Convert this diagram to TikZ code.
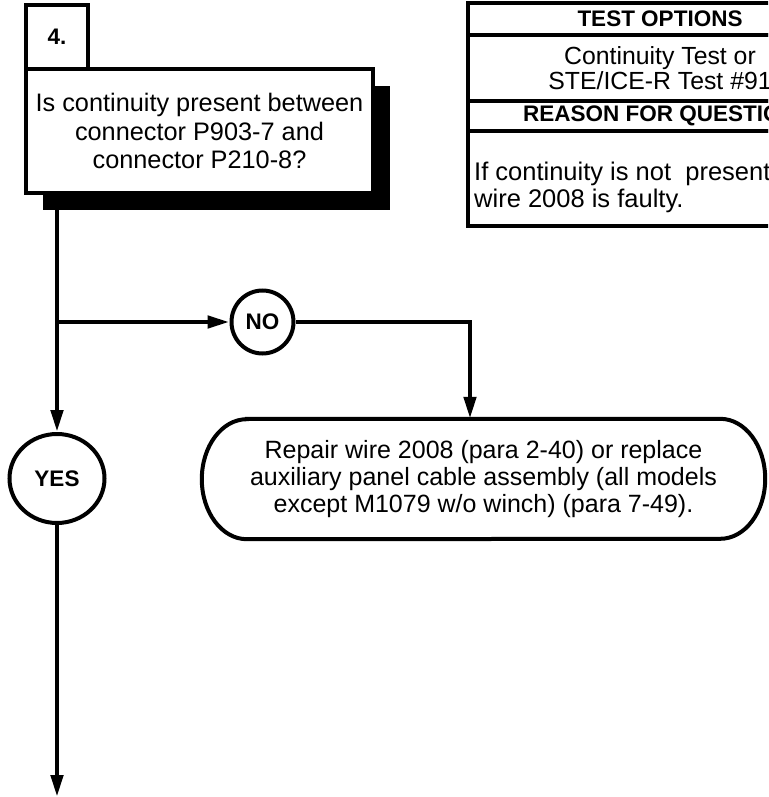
\documentclass[tikz,border=0pt]{standalone}
\usepackage{fontspec}
\setmainfont{Liberation Sans}
\usetikzlibrary{arrows.meta, shapes.geometric, shadows}

\begin{document}
\begin{tikzpicture}[x=1pt, y=-1pt,
    box/.style={rectangle, draw, line width=4pt, fill=white, inner sep=0pt},
    cell/.style={box, minimum width=384pt, align=center, font=\fontsize{22.5}{25}\selectfont},
    answer/.style={ellipse, draw, line width=4pt, fill=white, inner sep=0pt, font=\bfseries\fontsize{22.5}{27}\selectfont},
    flow/.style={line width=4.5pt, -{Triangle[length=22pt, width=12pt]}}
]
  \useasboundingbox (0,0) rectangle (768,797);
  \clip (0,0) rectangle (768,797);

  \node[box, minimum width=62pt, minimum height=64pt, font=\bfseries\fontsize{22.5}{27}\selectfont] (n4) at (57,37) {4.};
  \node[box, minimum width=347pt, minimum height=124pt, align=center,
        font=\fontsize{25.3}{28.7}\selectfont,
        drop shadow={shadow xshift=17pt, shadow yshift=-17pt, fill=black, opacity=1}] (q) at (199.5,131)
        {Is continuity present between\\connector P903-7 and\\connector P210-8?};

  \node[cell, minimum height=32pt] (t1) at (660,19) {\bfseries TEST OPTIONS};
  \node[cell, minimum height=66pt, font=\fontsize{24.8}{25.5}\selectfont] (t2) at (660,68) {Continuity Test or\\STE/ICE-R Test \#91};
  \node[cell, minimum height=30pt] (t3) at (660,116) {\bfseries REASON FOR QUESTION};
  \node[cell, minimum height=95pt] (t4) at (660,178.5) {};
  \node[anchor=west, align=left, inner sep=0pt, font=\fontsize{25.5}{27}\selectfont] (why) at (474,187)
        {If continuity is not\ \ present,\\wire 2008 is faulty.};

  \node[answer, minimum width=62pt, minimum height=63pt] (no) at (262.5,322) {NO};
  \node[answer, minimum width=95pt, minimum height=89pt] (yes) at (57,478.5) {YES};
  \node[rectangle, inner sep=0pt, minimum width=563pt, minimum height=120pt, align=center,
        font=\fontsize{25}{27}\selectfont] (fix) at (483.5,479)
        {Repair wire 2008 (para 2-40) or replace\\auxiliary panel cable assembly (all models\\except M1079 w/o winch) (para 7-49).};
  \draw[line width=4pt] ([xshift=45pt]fix.north west) -- ([xshift=-45pt]fix.north east)
        arc[start angle=90, end angle=-90, x radius=45pt, y radius=60pt]
        -- ([xshift=45pt]fix.south west)
        arc[start angle=270, end angle=90, x radius=45pt, y radius=60pt] -- cycle;

  \coordinate (br) at (57,322);
  \coordinate (turn) at (470,322);
  \coordinate (out) at (57,797);

  \draw[flow] (q.south -| yes.north) -- (yes);
  \draw[flow] (br) -- (no);
  \draw[flow] (no) -- (turn) -- (turn |- fix.north);
  \draw[flow] (yes) -- (out);
\end{tikzpicture}
\end{document}
